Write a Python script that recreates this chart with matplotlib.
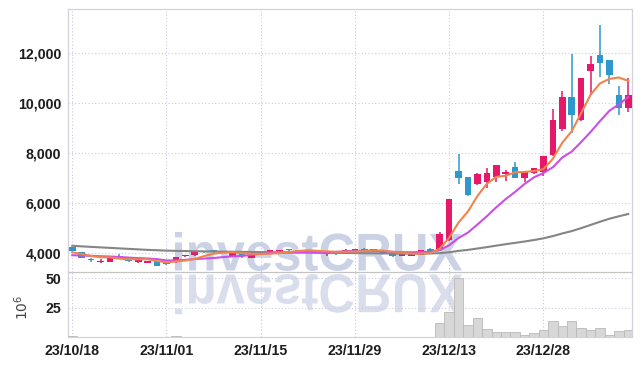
import numpy as np
import matplotlib
matplotlib.use("Agg")
import matplotlib.pyplot as plt
from matplotlib.textpath import TextPath
from matplotlib.patches import PathPatch
from matplotlib.font_manager import FontProperties
from matplotlib.transforms import Affine2D
from matplotlib.ticker import FuncFormatter

# ---------------- data ----------------
dates = ["23/10/18", "23/10/19", "23/10/20", "23/10/23", "23/10/24", "23/10/25", "23/10/26", "23/10/27", "23/10/30", "23/10/31",
         "23/11/01", "23/11/02", "23/11/03", "23/11/06", "23/11/07", "23/11/08", "23/11/09", "23/11/10", "23/11/13", "23/11/14",
         "23/11/15", "23/11/16", "23/11/17", "23/11/20", "23/11/21", "23/11/22", "23/11/23", "23/11/24", "23/11/27", "23/11/28",
         "23/11/29", "23/11/30", "23/12/01", "23/12/04", "23/12/05", "23/12/06", "23/12/07", "23/12/08", "23/12/11", "23/12/12",
         "23/12/13", "23/12/14", "23/12/15", "23/12/18", "23/12/19", "23/12/20", "23/12/21", "23/12/22", "23/12/26", "23/12/27",
         "23/12/28", "24/01/02", "24/01/03", "24/01/04", "24/01/05", "24/01/08", "24/01/09", "24/01/10", "24/01/11", "24/01/12"]

opens = [4240, 4030, 3760, 3640, 3650, 3870, 3740, 3640, 3620, 3680,
         3570, 3630, 3870, 3920, 4060, 4110, 4020, 3890, 4080, 3810,
         3930, 4030, 4080, 4140, 4120, 4090, 4090, 3950, 4050, 4070,
         4100, 4170, 4110, 4080, 3960, 3880, 3890, 3940, 4170, 4120,
         4520, 7280, 7040, 6750, 6850, 7030, 7160, 7440, 7010, 7200,
         7250, 7910, 8970, 10230, 9320, 11280, 11930, 11720, 10320, 9810]
highs = [4260, 4040, 3800, 3760, 3850, 3950, 3760, 3720, 3700, 3690,
         3580, 3860, 3930, 4050, 4100, 4120, 4060, 4010, 4090, 3930,
         3980, 4120, 4120, 4160, 4140, 4130, 4100, 4010, 4060, 4160,
         4180, 4190, 4160, 4090, 3970, 3970, 3970, 4130, 4190, 4850,
         6160, 7960, 7060, 7190, 7390, 7520, 7320, 7640, 7260, 7420,
         7900, 9750, 10470, 11950, 10990, 11890, 13110, 11740, 10690, 10990]
lows = [4070, 3800, 3640, 3620, 3640, 3760, 3660, 3620, 3610, 3480,
        3530, 3620, 3860, 3900, 4020, 4020, 4010, 3880, 3790, 3800,
        3920, 4020, 4060, 4100, 4090, 4080, 3990, 3900, 3930, 3960,
        4090, 4090, 4100, 3950, 3850, 3870, 3880, 3920, 4060, 4100,
        4480, 6750, 6300, 6720, 6610, 6850, 6880, 7000, 6860, 7180,
        7080, 7880, 8880, 8790, 9280, 10320, 11030, 10760, 9510, 9660]
closes = [4080, 3810, 3710, 3700, 3840, 3810, 3690, 3710, 3700, 3490,
          3550, 3840, 3920, 4030, 4040, 4030, 4040, 4000, 3870, 3920,
          3970, 4110, 4100, 4120, 4100, 4110, 4000, 4000, 4020, 4120,
          4150, 4100, 4140, 3960, 3880, 3960, 3960, 4110, 4080, 4750,
          6160, 7010, 6320, 7170, 7200, 7520, 7240, 7010, 7240, 7390,
          7880, 9320, 10230, 9530, 10990, 11560, 11610, 11130, 9810, 10320]

# volume in millions of shares
volumes = [1.2, 0.3, 0.2, 0.2, 0.3, 0.2, 0.2, 0.2, 0.2, 0.3,
           0.2, 1.0, 0.3, 0.3, 0.2, 0.2, 0.2, 0.2, 0.3, 0.2,
           0.2, 0.3, 0.2, 0.2, 0.2, 0.2, 0.2, 0.2, 0.2, 0.2,
           0.3, 0.2, 0.2, 0.2, 0.3, 0.2, 0.2, 0.4, 0.3, 12.2,
           20.9, 50.2, 10.5, 16.5, 7.0, 3.9, 3.9, 3.9, 1.9, 3.0,
           5.6, 13.4, 9.1, 13.4, 7.9, 5.6, 7.9, 1.9, 5.3, 6.0]

ma5 = [4030, 3960, 3880, 3830, 3828, 3774, 3750, 3750, 3750, 3680,
       3628, 3658, 3700, 3766, 3876, 3972, 4012, 4028, 3996, 3972,
       3960, 3974, 3994, 4044, 4080, 4108, 4086, 4066, 4046, 4050,
       4058, 4078, 4106, 4094, 4046, 4008, 3980, 3974, 3998, 4172,
       4612, 5222, 5664, 6282, 6772, 7044, 7090, 7228, 7242, 7280,
       7352, 7768, 8412, 8870, 9590, 10326, 10784, 10964, 11020, 10886]
ma10 = [3910, 3900, 3885, 3870, 3860, 3840, 3815, 3795, 3780, 3754,
        3701, 3704, 3725, 3758, 3778, 3800, 3835, 3864, 3881, 3924,
        3966, 3993, 4011, 4020, 4026, 4034, 4030, 4030, 4045, 4065,
        4083, 4082, 4086, 4070, 4048, 4033, 4029, 4040, 4046, 4109,
        4310, 4601, 4819, 5140, 5472, 5828, 6156, 6446, 6762, 7026,
        7198, 7429, 7820, 8056, 8435, 8839, 9276, 9688, 9945, 10238]
ma60 = [4290, 4265, 4245, 4225, 4205, 4185, 4165, 4145, 4125, 4110,
        4095, 4085, 4078, 4072, 4066, 4060, 4055, 4050, 4045, 4040,
        4036, 4032, 4028, 4024, 4020, 4016, 4012, 4008, 4004, 4000,
        3996, 3992, 3988, 3984, 3980, 3976, 3975, 3976, 3980, 3995,
        4030, 4085, 4125, 4180, 4235, 4295, 4352, 4405, 4460, 4520,
        4587, 4677, 4782, 4876, 4994, 5122, 5250, 5370, 5468, 5560]

price_ticks = [4000, 6000, 8000, 10000, 12000]
volume_ticks = [25, 50]
date_tick_step = 10
watermark = "investCRUX"

# ---------------- styling ----------------
RED = "#e5186a"
BLUE = "#2e98cc"
GRID = "#c6cadf"
SPINE = "#d2d3dc"

W, H = 642, 366
fig = plt.figure(figsize=(W / 100, H / 100), dpi=100, facecolor="white")

L, R = 68, 632
T, MID, B = 9, 272, 337
ax = fig.add_axes([L / W, 1 - MID / H, (R - L) / W, (MID - T) / H])
axv = fig.add_axes([L / W, 1 - B / H, (R - L) / W, (B - MID) / H], sharex=ax)
for a in (ax, axv):
    a.set_facecolor("none")

x = np.arange(len(dates))
o = np.array(opens, float)
c = np.array(closes, float)
hi = np.array(highs, float)
lo = np.array(lows, float)
up = c >= o
colors = np.where(up, RED, BLUE)

# watermark (with mirrored reflection), drawn below the axes
fp_w = FontProperties(family=["Liberation Sans", "DejaVu Sans"], weight="bold")
tp = TextPath((0, 0), watermark, size=100, prop=fp_w)
bb = tp.get_extents()
sx = (462 - 175) / bb.width
sy = (272 - 233) / bb.height
tr1 = Affine2D().translate(-bb.x0, -bb.y0).scale(sx, sy).translate(175, H - 271)
tr2 = Affine2D().translate(-bb.x0, -bb.y0).scale(sx, -sy * 1.03).translate(175, H - 274)
fig.add_artist(PathPatch(tp, transform=tr1, facecolor="#ccd2e6", edgecolor="none", zorder=-1))
fig.add_artist(PathPatch(tp, transform=tr2, facecolor="#dadeec", edgecolor="none", zorder=-1))

# candles
ax.vlines(x, lo, hi, colors=colors, linewidth=1.1, zorder=3)
body_bottom = np.minimum(o, c)
body_h = np.maximum(np.abs(c - o), 35)
ax.bar(x, body_h, bottom=body_bottom, width=0.7, color=colors, linewidth=0, zorder=4)

# moving averages
ax.plot(x, ma60, color="#858585", linewidth=1.5, zorder=5)
ax.plot(x, ma10, color="#c94fe6", linewidth=1.5, zorder=5)
ax.plot(x, ma5, color="#f0844c", linewidth=1.5, zorder=6)

# volume
axv.bar(x, volumes, width=1.0, color="#d7d7d7", edgecolor="#b9b9b9", linewidth=0.6, zorder=3)

# axes ranges
ax.set_xlim(-0.45, 59.4)
ax.set_ylim(3240, 13760)
axv.set_ylim(0, 55.2)

tick_fp = FontProperties(family=["Liberation Sans", "DejaVu Sans"], weight="bold", size=10.2)

ax.set_yticks(price_ticks)
ax.yaxis.set_major_formatter(FuncFormatter(lambda v, p: f"{v:,.0f}"))
axv.set_yticks(volume_ticks)
tick_idx = list(range(0, len(dates), date_tick_step))
axv.set_xticks(tick_idx)
axv.set_xticklabels([dates[i] for i in tick_idx])
ax.tick_params(axis="x", labelbottom=False)

for a in (ax, axv):
    a.tick_params(length=0, pad=5, colors="#1e1e1e")
    a.grid(True, linestyle=(0, (1, 2)), color=GRID, linewidth=0.8, zorder=0)
    a.set_axisbelow(True)
    for s in a.spines.values():
        s.set_color(SPINE)
        s.set_linewidth(0.9)
    for lab in a.get_yticklabels() + a.get_xticklabels():
        lab.set_fontproperties(tick_fp)
        lab.set_color("#1e1e1e")

ax.spines["bottom"].set_color("#c4c4c4")
axv.spines["top"].set_visible(False)

axv.set_ylabel(r"$10^{6}$", fontsize=10, color="#444444", rotation=90)
axv.yaxis.set_label_coords((31 - L) / (R - L), 0.45)

fig.savefig("out.png", dpi=100, facecolor="white")
